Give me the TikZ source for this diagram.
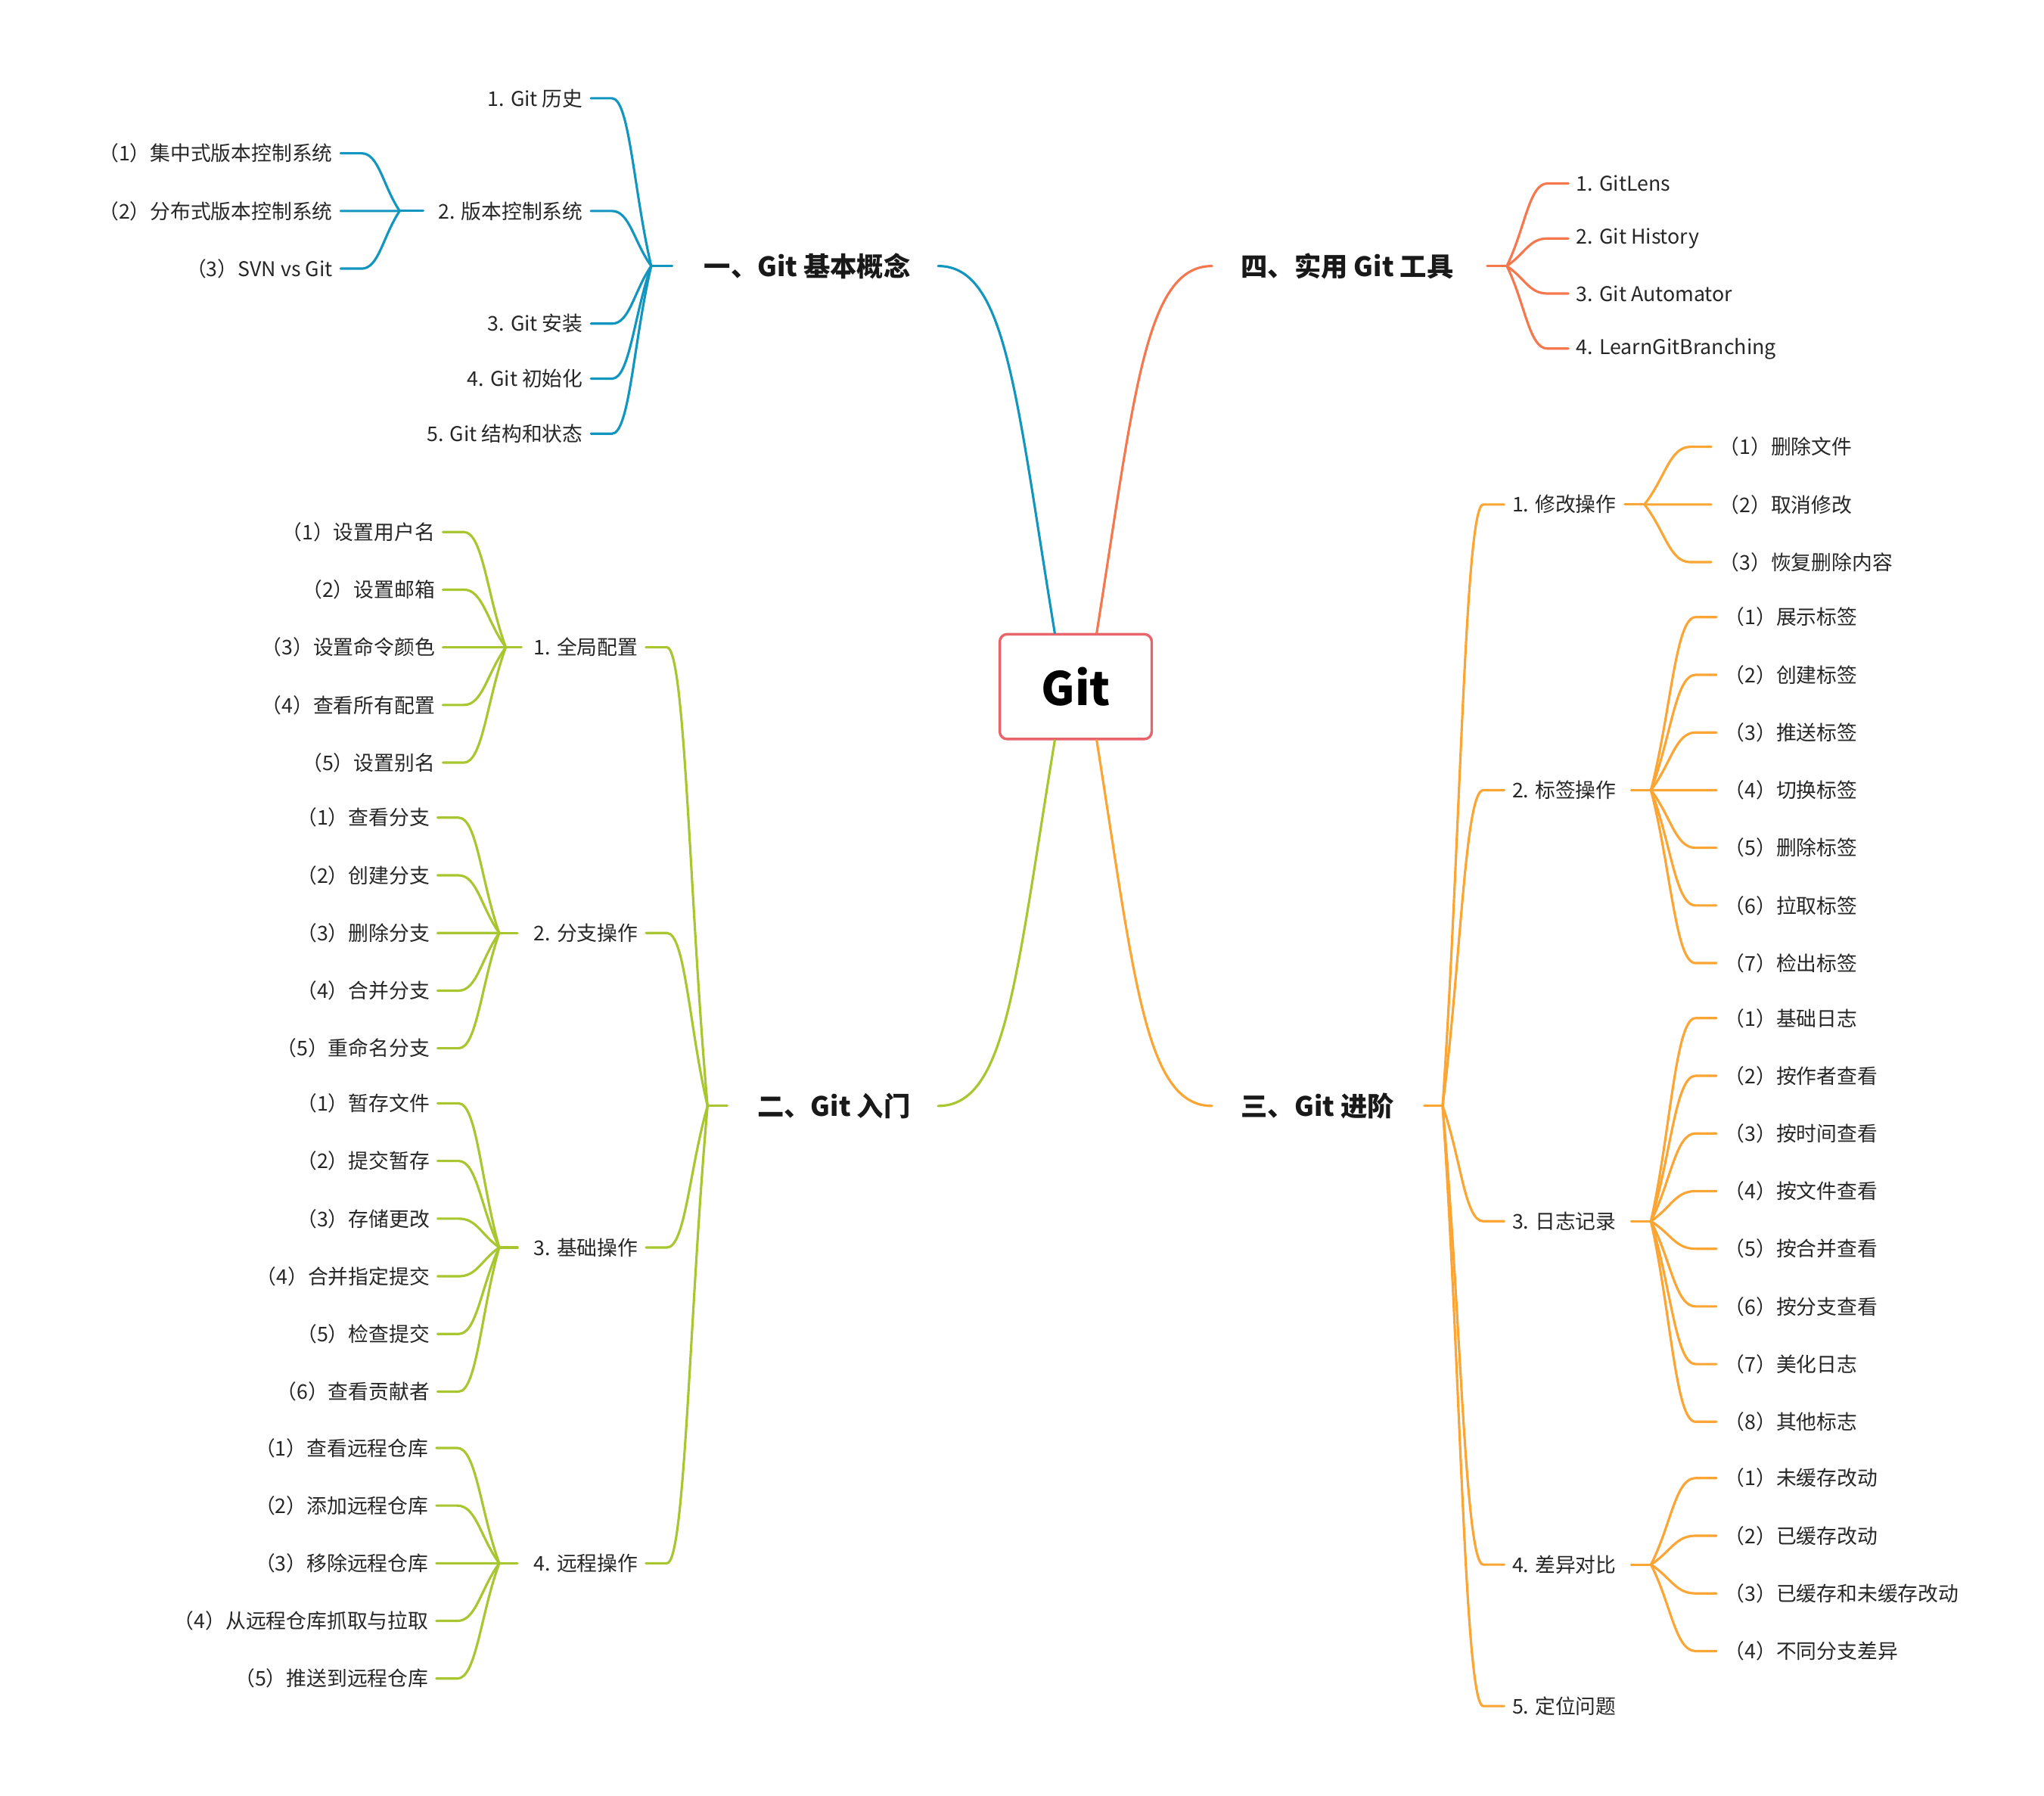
\documentclass[tikz,border=0pt]{standalone}
\usepackage{fontspec}
\setmainfont{Noto Sans CJK SC}
\usetikzlibrary{calc}
\definecolor{cblue}{HTML}{1296C0}
\definecolor{cred}{HTML}{F5774E}
\definecolor{clime}{HTML}{A8C630}
\definecolor{corange}{HTML}{FBA534}
\definecolor{cbox}{HTML}{E8646A}
\newcommand\lblfont{\fontsize{22}{26}\selectfont}
\newcommand\kidL[6]{%
 \node[lbl,anchor=east] (#3) at (#4,#5) {#6};
 \coordinate (#3a) at (#4+6,#5); \coordinate (#3b) at (#4+22,#5);
 \draw[#1,link] let \p1=(#2), \p2=(#3b) in (\p1) .. controls ($(\p1)!0.45!(\p2)$) and ({\x2+0.45*(\x1-\x2)},\y2) .. (\p2) -- (#3a);}
\newcommand\kidR[6]{%
 \node[lbl,anchor=west] (#3) at (#4,#5) {#6};
 \coordinate (#3a) at (#4-6,#5); \coordinate (#3b) at (#4-22,#5);
 \draw[#1,link] let \p1=(#2), \p2=(#3b) in (\p1) .. controls ($(\p1)!0.45!(\p2)$) and ({\x2+0.45*(\x1-\x2)},\y2) .. (\p2) -- (#3a);}
\tikzset{lbl/.style={font=\lblfont,inner sep=0pt,text=black!85},
 link/.style={line width=2.6pt,line cap=round},
 mainlbl/.style={font=\fontsize{29}{34}\selectfont\bfseries,inner sep=0pt,text=black!90}}
\begin{document}
\begin{tikzpicture}[x=0.05cm,y=-0.05cm]
\useasboundingbox (0,0) rectangle (1560,1370.6);
\node[draw=cbox,line width=2.8pt,rounded corners=8pt,fill=white,minimum width=5.8cm,minimum height=4cm,font=\fontsize{50}{56}\selectfont\bfseries] (ctr) at (821,524) {Git};
% main nodes
\node[mainlbl,anchor=east] (m1) at (695,203) {一、Git 基本概念};
\node[mainlbl,anchor=west] (m4) at (947,203) {四、实用 Git 工具};
\node[mainlbl,anchor=east] (m2) at (695,844) {二、Git 入门};
\node[mainlbl,anchor=west] (m3) at (947,844) {三、Git 进阶};
\coordinate (c1) at ($(ctr.north)+(-16,0)$);
\coordinate (c4) at ($(ctr.north)+(16,0)$);
\coordinate (c2) at ($(ctr.south)+(-16,0)$);
\coordinate (c3) at ($(ctr.south)+(16,0)$);
\coordinate (e1) at (716,203); \coordinate (e4) at (925,203);
\coordinate (e2) at (716,844); \coordinate (e3) at (925,844);
\draw[cblue,link] (c1) .. controls (775,300) and (768,203) .. (e1);
\draw[cred,link] (c4) .. controls (866,300) and (874,203) .. (e4);
\draw[clime,link] (c2) .. controls (775,748) and (768,844) .. (e2);
\draw[corange,link] (c3) .. controls (866,748) and (874,844) .. (e3);
% fans
\coordinate (f1) at (497,203); \coordinate (s1) at (513,203); \draw[cblue,link] (f1)--(s1);
\coordinate (f4) at (1150,203); \coordinate (s4) at (1135,203); \draw[cred,link] (f4)--(s4);
\coordinate (f2) at (540,844); \coordinate (s2) at (555,844); \draw[clime,link] (f2)--(s2);
\coordinate (f3) at (1101,844); \coordinate (s3) at (1087,844); \draw[corange,link] (f3)--(s3);
% blue
\kidL{cblue}{f1}{b1}{445}{75}{1. Git 历史}
\kidL{cblue}{f1}{b2}{445}{161}{2. 版本控制系统}
\kidL{cblue}{f1}{b3}{445}{247}{3. Git 安装}
\kidL{cblue}{f1}{b4}{445}{289}{4. Git 初始化}
\kidL{cblue}{f1}{b5}{445}{331}{5. Git 结构和状态}
\coordinate (fb2) at (305,161); \coordinate (sb2) at (323,161); \draw[cblue,link] (fb2)--(sb2);
\kidL{cblue}{fb2}{b21}{254}{117}{（1）集中式版本控制系统}
\kidL{cblue}{fb2}{b22}{254}{161}{（2）分布式版本控制系统}
\kidL{cblue}{fb2}{b23}{254}{205}{（3）SVN vs Git}
% red
\kidR{cred}{f4}{r1}{1203}{140}{1. GitLens}
\kidR{cred}{f4}{r2}{1203}{182}{2. Git History}
\kidR{cred}{f4}{r3}{1203}{224}{3. Git Automator}
\kidR{cred}{f4}{r4}{1203}{266}{4. LearnGitBranching}
% lime
\kidL{clime}{f2}{g1}{487}{494}{1. 全局配置}
\kidL{clime}{f2}{g2}{487}{712}{2. 分支操作}
\kidL{clime}{f2}{g3}{487}{952}{3. 基础操作}
\kidL{clime}{f2}{g4}{487}{1193}{4. 远程操作}
\coordinate (fg1) at (386,494); \coordinate (sg1) at (398,494); \draw[clime,link] (fg1)--(sg1);
\coordinate (fg2) at (381,712); \coordinate (sg2) at (395,712); \draw[clime,link] (fg2)--(sg2);
\coordinate (fg3) at (381,952); \coordinate (sg3) at (395,952); \draw[clime,link] (fg3)--(sg3);
\coordinate (fg4) at (381,1193); \coordinate (sg4) at (395,1193); \draw[clime,link] (fg4)--(sg4);
\kidL{clime}{fg1}{g11}{332}{406}{（1）设置用户名}
\kidL{clime}{fg1}{g12}{332}{450}{（2）设置邮箱}
\kidL{clime}{fg1}{g13}{332}{494}{（3）设置命令颜色}
\kidL{clime}{fg1}{g14}{332}{538}{（4）查看所有配置}
\kidL{clime}{fg1}{g15}{332}{582}{（5）设置别名}
\kidL{clime}{fg2}{g21}{328}{624}{（1）查看分支}
\kidL{clime}{fg2}{g22}{328}{668}{（2）创建分支}
\kidL{clime}{fg2}{g23}{328}{712}{（3）删除分支}
\kidL{clime}{fg2}{g24}{328}{756}{（4）合并分支}
\kidL{clime}{fg2}{g25}{328}{800}{（5）重命名分支}
\kidL{clime}{fg3}{g31}{328}{842}{（1）暂存文件}
\kidL{clime}{fg3}{g32}{328}{886}{（2）提交暂存}
\kidL{clime}{fg3}{g33}{328}{930}{（3）存储更改}
\kidL{clime}{fg3}{g34}{328}{974}{（4）合并指定提交}
\kidL{clime}{fg3}{g35}{328}{1018}{（5）检查提交}
\kidL{clime}{fg3}{g36}{328}{1062}{（6）查看贡献者}
\kidL{clime}{fg4}{g41}{327}{1105}{（1）查看远程仓库}
\kidL{clime}{fg4}{g42}{327}{1149}{（2）添加远程仓库}
\kidL{clime}{fg4}{g43}{327}{1193}{（3）移除远程仓库}
\kidL{clime}{fg4}{g44}{327}{1237}{（4）从远程仓库抓取与拉取}
\kidL{clime}{fg4}{g45}{327}{1281}{（5）推送到远程仓库}
% orange
\kidR{corange}{f3}{o1}{1154}{385}{1. 修改操作}
\kidR{corange}{f3}{o2}{1154}{603}{2. 标签操作}
\kidR{corange}{f3}{o3}{1154}{932}{3. 日志记录}
\kidR{corange}{f3}{o4}{1154}{1194}{4. 差异对比}
\kidR{corange}{f3}{o5}{1154}{1302}{5. 定位问题}
\coordinate (fo1) at (1255,385); \coordinate (so1) at (1240,385); \draw[corange,link] (fo1)--(so1);
\coordinate (fo2) at (1260,603); \coordinate (so2) at (1245,603); \draw[corange,link] (fo2)--(so2);
\coordinate (fo3) at (1260,932); \coordinate (so3) at (1245,932); \draw[corange,link] (fo3)--(so3);
\coordinate (fo4) at (1260,1194); \coordinate (so4) at (1245,1194); \draw[corange,link] (fo4)--(so4);
\kidR{corange}{fo1}{o11}{1312}{341}{（1）删除文件}
\kidR{corange}{fo1}{o12}{1312}{385}{（2）取消修改}
\kidR{corange}{fo1}{o13}{1312}{429}{（3）恢复删除内容}
\kidR{corange}{fo2}{o21}{1316}{471}{（1）展示标签}
\kidR{corange}{fo2}{o22}{1316}{515}{（2）创建标签}
\kidR{corange}{fo2}{o23}{1316}{559}{（3）推送标签}
\kidR{corange}{fo2}{o24}{1316}{603}{（4）切换标签}
\kidR{corange}{fo2}{o25}{1316}{647}{（5）删除标签}
\kidR{corange}{fo2}{o26}{1316}{691}{（6）拉取标签}
\kidR{corange}{fo2}{o27}{1316}{735}{（7）检出标签}
\kidR{corange}{fo3}{o31}{1316}{777}{（1）基础日志}
\kidR{corange}{fo3}{o32}{1316}{821}{（2）按作者查看}
\kidR{corange}{fo3}{o33}{1316}{865}{（3）按时间查看}
\kidR{corange}{fo3}{o34}{1316}{909}{（4）按文件查看}
\kidR{corange}{fo3}{o35}{1316}{953}{（5）按合并查看}
\kidR{corange}{fo3}{o36}{1316}{997}{（6）按分支查看}
\kidR{corange}{fo3}{o37}{1316}{1041}{（7）美化日志}
\kidR{corange}{fo3}{o38}{1316}{1085}{（8）其他标志}
\kidR{corange}{fo4}{o41}{1316}{1128}{（1）未缓存改动}
\kidR{corange}{fo4}{o42}{1316}{1172}{（2）已缓存改动}
\kidR{corange}{fo4}{o43}{1316}{1216}{（3）已缓存和未缓存改动}
\kidR{corange}{fo4}{o44}{1316}{1260}{（4）不同分支差异}
\end{tikzpicture}
\end{document}
